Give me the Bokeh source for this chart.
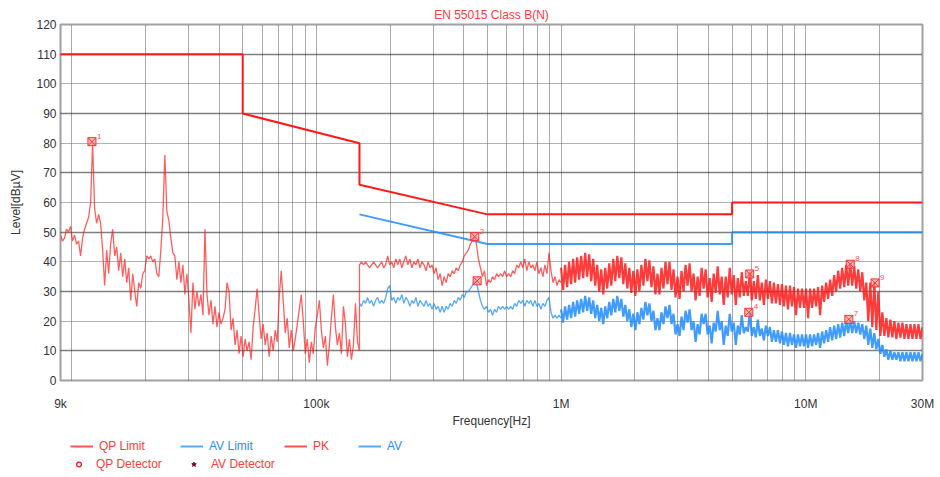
import numpy as np
from bokeh.plotting import figure
from bokeh.layouts import column
from bokeh.models import FixedTicker, Grid, Legend, LegendItem
from bokeh.embed import file_html
from bokeh.resources import INLINE
from bokeh.core.properties import value

# ---------------- data (levels in dBuV) ----------------
# Limit lines
qp_limit_freq = [9e3, 50e3, 50e3, 150e3, 150e3, 500e3, 5e6, 5e6, 30e6]
qp_limit_level = [110, 110, 90, 80, 66, 56, 56, 60, 60]
av_limit_freq = [150e3, 500e3, 5e6, 5e6, 30e6]
av_limit_level = [56, 46, 46, 50, 50]

# PK trace, sweep band A: 9 kHz .. 150 kHz
pk_band_a = [49, 47, 48, 51, 50, 52, 47, 49, 46, 47,
             42, 48, 51, 53, 55, 60, 80, 58, 53, 56,
             53, 44, 32, 44, 36, 46, 51, 42, 45, 37,
             43, 35, 41, 33, 38, 27, 36, 30, 25, 33,
             31, 36, 37, 42, 41, 42, 40, 41, 36, 35,
             44, 55, 76, 57, 54, 48, 43, 42, 34, 40,
             33, 39, 29, 36, 27, 16, 33, 24, 30, 25,
             29, 22, 51, 29, 22, 27, 19, 25, 18, 23,
             19, 21, 24, 33, 30, 17, 21, 12, 17, 9,
             15, 8, 14, 10, 13, 7, 18, 24, 31, 22,
             14, 19, 12, 16, 8, 15, 10, 17, 13, 28,
             37, 27, 16, 21, 11, 17, 10, 14, 19, 24,
             29, 20, 9, 14, 6, 13, 9, 18, 22, 27,
             17, 11, 15, 5, 12, 21, 29, 18, 12, 16,
             9, 25, 19, 8, 14, 7, 12, 26, 13, 10]

# PK / AV traces, sweep band B: 150 kHz .. 1 MHz
pk_band_b = [39, 40, 39, 40, 39, 38, 39, 40, 39, 38,
             39, 40, 38, 39, 42, 39, 40, 38, 41, 39,
             41, 38, 40, 42, 39, 41, 38, 40, 39, 41,
             38, 40, 39, 37, 40, 38, 39, 36, 38, 34,
             36, 32, 35, 33, 36, 35, 37, 36, 38, 37,
             39, 40, 42, 43, 44, 46, 47, 48.5, 46, 41,
             38, 35, 37, 32, 34, 33, 35, 34, 36, 35,
             36, 35, 37, 35, 36, 35, 37, 36, 39, 38,
             40, 38, 41, 37, 40, 38, 39, 37, 40, 36,
             38, 35, 39, 36, 43, 37, 33, 35, 32, 34,
             33]
av_band_b = [26, 25, 27, 26, 28, 26, 27, 25, 27, 28,
             26, 27, 26, 28, 31, 32, 27, 28, 26, 28,
             27, 29, 26, 28, 27, 25, 27, 26, 28, 25,
             27, 26, 25, 27, 25, 26, 24, 26, 24, 25,
             23, 25, 23, 25, 24, 26, 25, 27, 26, 28,
             27, 29, 28, 30, 30, 31, 32, 33.5, 33, 30,
             27, 25, 24, 25, 23, 24, 22, 24, 23, 25,
             24, 25, 24, 25, 24, 25, 24, 26, 25, 27,
             26, 27, 25, 27, 26, 27, 25, 27, 25, 26,
             24, 26, 25, 27, 28, 23, 21, 22, 21, 22,
             21]

# PK / AV traces, sweep band C: 1 MHz .. 30 MHz
pk_band_c = [38, 30.5, 39, 31.5, 40, 32.5, 41, 33, 41.5, 34,
             42, 34.5, 43, 35, 42.5, 33.5, 41, 32, 39, 30,
             37.5, 29, 38, 31, 39.5, 32, 41, 33.5, 42, 34.5,
             41.5, 32.5, 39.5, 31, 38, 29.5, 37, 28.5, 37.5, 30,
             39, 32, 41, 33.5, 40.5, 31.5, 38.5, 29, 36, 29,
             38, 31, 40, 32.5, 40, 30.5, 37.5, 28, 35, 27.5,
             37, 30, 39, 32, 39.5, 30, 36, 27, 35, 28.5,
             38, 31, 37.5, 28, 34.5, 26.5, 36, 29.5, 38.5, 29,
             35, 25.5, 35, 28, 38, 29, 35.5, 25.5, 34.5, 28,
             36.5, 28.5, 33.5, 28.5, 36.5, 27, 33.5, 27.5, 35.5, 27,
             33, 25.5, 34, 27.5, 33.5, 26, 33, 26, 32.5, 25.5,
             32.5, 25, 32, 24, 32, 25, 31.5, 22, 31, 24.5,
             31, 24.5, 31, 21, 31, 24.5, 31, 25, 31.5, 22,
             32, 26.5, 33, 27.5, 34, 28.5, 35.5, 30, 37, 31,
             38, 31.5, 39, 32, 39.5, 32, 38.5, 31, 37.5, 30,
             36.5, 27, 33, 20, 33, 18, 33, 17, 30, 15,
             23, 15, 21, 14.5, 20.5, 14.5, 20, 14, 19.5, 14.5,
             19.5, 14, 19, 14, 19, 14, 19, 14, 19, 14, 18]
av_band_c = [24, 19.5, 25, 20.5, 25.5, 21, 26.5, 21.5, 27, 22.5,
             27.5, 23, 28.5, 23.5, 28, 22.5, 27, 21, 25.5, 20,
             24.5, 19, 25, 21, 26.5, 22, 27.5, 23, 28.5, 23.5,
             27.5, 21.5, 25.5, 20, 24, 18, 22.5, 17, 23, 19,
             24.5, 20.5, 26.5, 22, 26, 20, 23.5, 17, 21, 17,
             23, 19, 25, 21, 25.5, 19, 22.5, 15.5, 19, 15,
             21.5, 17, 23.5, 19.5, 24, 17, 20, 13, 19, 15.5,
             22.5, 19, 22.5, 15.5, 18.5, 12.5, 19.5, 16.5, 23.5, 17,
             20, 12, 18.5, 15, 22.5, 16.5, 19.5, 12, 18.5, 15.5,
             22, 16, 18, 16.5, 23, 15, 18, 14.5, 20.5, 15,
             17.5, 13.5, 18.5, 15, 18, 13, 17, 13, 17, 12.5,
             16.5, 12, 16, 11.5, 16, 12, 15.5, 11, 15.5, 11.5,
             15.5, 11.5, 15.5, 11, 15.5, 11.5, 15.5, 12, 16, 11,
             16.5, 12.5, 17, 13, 18, 13.5, 18.5, 14, 19, 14.5,
             19.5, 15, 20, 16, 20.5, 16, 20, 16, 19.5, 15.5,
             19, 14, 18.5, 12, 17.5, 11, 16, 10.5, 14, 9,
             12, 8, 10.5, 7, 10, 7, 9.5, 7, 9.5, 6.5,
             9.5, 6.5, 9.5, 6.5, 9.5, 6.5, 9.5, 6.5, 9.5, 6.5, 9]

# Marked detector points
marker_freq = [12.1e3, 444e3, 454e3, 5.85e6, 5.9e6, 15.0e6, 15.2e6, 19.2e6]
marker_level = [80.5, 48.5, 33.6, 23, 35.9, 20.6, 39.2, 32.9]
marker_label = ["1", "2", "", "4", "5", "7", "8", "9"]

# Axis ticks
x_tick_vals = [9000, 100000, 1000000, 10000000, 30000000]
x_tick_labels = ["9k", "100k", "1M", "10M", "30M"]
x_grid_vals = [m * 10 ** e for e in (4, 5, 6) for m in range(1, 10)] + [10 ** 7, 2 * 10 ** 7]
y_tick_vals = list(range(0, 121, 10))

# receiver sweep frequency grids (log-stepped per band)
sweep_a = np.geomspace(9e3, 150e3, len(pk_band_a))
sweep_b = np.geomspace(150e3, 1e6, len(pk_band_b))
sweep_c = np.geomspace(1e6, 30e6, len(pk_band_c))

pk_low_freq = np.concatenate([sweep_a, sweep_b])
pk_low_level = np.array(pk_band_a + pk_band_b, dtype=float)

RED = "#ff1a1a"
BLUE = "#1e8cff"
TXT_RED = "#ff3b3b"
TXT_BLUE = "#2a8cff"
FONT = "Liberation Sans"
W = 936

p = figure(width=W, height=430, x_axis_type="log", x_range=(9e3, 3e7), y_range=(0, 120),
           output_backend="svg", toolbar_location=None,
           min_border_left=60, min_border_right=W - 922, min_border_top=24, min_border_bottom=48,
           title="EN 55015 Class B(N)")
p.title.align = "center"
p.title.text_color = TXT_RED
p.title.text_font = FONT
p.title.text_font_style = "normal"
p.title.text_font_size = "12px"
p.title.standoff = 5

p.outline_line_color = "#a0a0a0"
p.outline_line_width = 2
p.background_fill_color = "white"
p.border_fill_color = "white"

# axes
p.xaxis.ticker = FixedTicker(ticks=x_tick_vals)
p.xaxis.major_label_overrides = dict(zip(x_tick_vals, x_tick_labels))
p.yaxis.ticker = FixedTicker(ticks=y_tick_vals)
for ax in (p.xaxis, p.yaxis):
    ax.axis_line_color = None
    ax.major_tick_out = 0
    ax.major_tick_in = 0
    ax.minor_tick_out = 0
    ax.minor_tick_in = 0
    ax.major_label_text_font = FONT
    ax.major_label_text_font_size = "12px"
    ax.major_label_text_color = "#333333"
    ax.axis_label_text_font = FONT
    ax.axis_label_text_font_size = "12px"
    ax.axis_label_text_font_style = "normal"
    ax.axis_label_text_color = "#333333"
p.xaxis.axis_label = "Frequency[Hz]"
p.yaxis.axis_label = "Level[dBµV]"
p.xaxis.major_label_standoff = 16
p.xaxis.axis_label_standoff = 0
p.yaxis.major_label_standoff = 4
p.yaxis.axis_label_standoff = 10

# grids
p.xgrid.ticker = FixedTicker(ticks=x_grid_vals)
p.xgrid.grid_line_color = "#555555"
p.xgrid.grid_line_dash = "1 1"
p.xgrid.grid_line_width = 1
p.ygrid.ticker = FixedTicker(ticks=[10, 30, 50, 70, 90, 110])
p.ygrid.grid_line_color = "#000000"
p.ygrid.grid_line_dash = "1 1"
p.ygrid.grid_line_width = 1.3
p.add_layout(Grid(dimension=1, ticker=FixedTicker(ticks=[20, 40, 60, 80, 100]),
                  grid_line_color="#666666", grid_line_dash="1 1", grid_line_width=1))

# traces: PK (low bands thin, dense 1-30 MHz band heavier) and AV
p.line(pk_low_freq, pk_low_level, line_color=RED, line_width=1.3, line_alpha=0.7)
p.line(sweep_c, pk_band_c, line_color=RED, line_width=2.2, line_alpha=0.85)
p.line(sweep_b, av_band_b, line_color=BLUE, line_width=1.3, line_alpha=0.75)
p.line(sweep_c, av_band_c, line_color=BLUE, line_width=2.2, line_alpha=0.85)
p.line(qp_limit_freq, qp_limit_level, line_color=RED, line_width=2)
p.line(av_limit_freq, av_limit_level, line_color=BLUE, line_width=2, line_alpha=0.85)

p.scatter(marker_freq, marker_level, marker="square_x", size=8, line_color="#ff3030",
          fill_color="#ff9090", fill_alpha=0.6, line_width=1)
p.text(marker_freq, marker_level, text=marker_label, x_offset=5, y_offset=-3,
       text_font_size="8px", text_color="#ff5050", text_font=value(FONT), text_baseline="bottom")

# ---------------- legend strip below the chart ----------------
lf = figure(width=W, height=45, x_range=(0, 1), y_range=(0, 1), output_backend="svg",
            toolbar_location=None, min_border=0, outline_line_color=None)
lf.axis.visible = False
lf.grid.visible = False
nan = [np.nan]
lg_qp = lf.line(x=nan, y=nan, line_color=RED, line_width=2, line_alpha=0.75)
lg_avl = lf.line(x=nan, y=nan, line_color=BLUE, line_width=2, line_alpha=0.75)
lg_pk = lf.line(x=nan, y=nan, line_color=RED, line_width=2, line_alpha=0.75)
lg_av = lf.line(x=nan, y=nan, line_color=BLUE, line_width=2, line_alpha=0.75)
lg_qpd = lf.scatter(x=nan, y=nan, marker="circle", size=6, line_color=RED, fill_color=None, line_width=1.3)
lg_avd = lf.scatter(x=nan, y=nan, marker="star", size=12, line_color="#7a0a35", fill_color="#7a0a35")


def add_legend(renderer, label, color, x, y):
    leg = Legend(items=[LegendItem(label=label, renderers=[renderer])], location=(x, y),
                 orientation="horizontal", padding=0, margin=0, spacing=0,
                 border_line_alpha=0, background_fill_alpha=0,
                 glyph_width=23, glyph_height=12, label_height=12, label_standoff=6,
                 label_text_font=FONT, label_text_font_size="12px", label_text_color=color)
    lf.add_layout(leg, "center")


# the legend strip's frame is aligned with the chart frame (starts at x = 60)
add_legend(lg_qp, "QP Limit", TXT_RED, 10, 22)
add_legend(lg_avl, "AV Limit", TXT_BLUE, 120, 22)
add_legend(lg_pk, "PK", TXT_RED, 224, 22)
add_legend(lg_av, "AV", TXT_BLUE, 298, 22)
add_legend(lg_qpd, "QP Detector", TXT_RED, 7, 4)
add_legend(lg_avd, "AV Detector", TXT_RED, 122, 4)

layout = column(p, lf, spacing=0)
open("out.html", "w").write(file_html(layout, INLINE))
